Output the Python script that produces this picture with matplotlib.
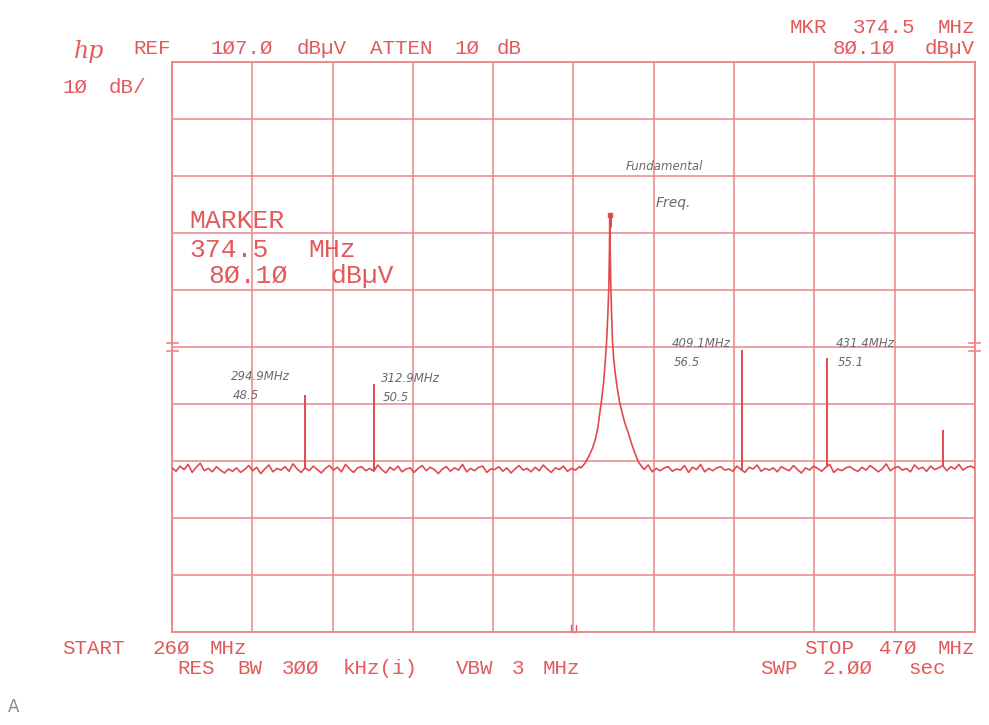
import re
import numpy as np
import matplotlib
matplotlib.use("Agg")
import matplotlib.pyplot as plt
from matplotlib.transforms import blended_transform_factory

# ---- instrument settings -------------------------------------------------
start_mhz = 260.0
stop_mhz = 470.0
ref_level = 107.0          # dBuV, top graticule line
db_per_div = 10.0
marker_freq = 374.5
marker_level = 80.10

# ---- swept noise floor (dBuV), one value per sweep bin --------------------
noise_floor = [
    35.8, 35.2, 36.1, 35.5, 36.4, 35.0, 35.9, 36.6, 35.3, 35.7,
    35.1, 36.0, 35.4, 34.9, 35.6, 35.2, 35.8, 35.0, 35.5, 36.2,
    35.3, 35.9, 34.8, 35.6, 36.3, 35.1, 35.7, 35.4, 36.0, 35.2,
    36.5, 35.6, 35.0, 35.8, 35.3, 36.1, 35.5, 34.9, 35.7, 36.2,
    35.4, 35.9, 35.1, 36.4, 35.6, 35.0, 35.8, 36.0, 35.3, 35.7,
    35.2, 36.3, 35.5, 34.9, 35.9, 35.4, 36.1, 35.1, 35.6, 35.8,
    35.0, 35.7, 36.2, 35.3, 35.9, 35.5, 34.8, 35.6, 36.0, 35.2,
    35.8, 35.4, 36.4, 35.1, 35.7, 35.3, 35.9, 36.1, 35.0, 35.6,
    35.5, 36.0, 35.2, 35.8, 34.9, 35.6, 36.2, 35.4, 35.7, 35.1,
    35.9, 35.3, 36.3, 35.6, 35.0, 35.8, 35.5, 36.1, 35.2, 35.7,
    35.4, 36.0, 35.1, 35.6, 35.9, 35.3, 36.2, 35.5, 34.9, 35.8,
    35.2, 35.7, 36.1, 35.4, 35.6, 35.0, 35.9, 35.5, 36.3, 35.1,
    35.7, 35.3, 35.8, 36.0, 35.2, 35.6, 35.4, 36.2, 35.0, 35.9,
    35.5, 36.4, 35.1, 35.7, 35.3, 35.8, 36.0, 35.4, 35.6, 35.2,
    36.1, 35.5, 35.0, 35.9, 35.6, 36.3, 35.2, 35.7, 35.4, 35.8,
    35.1, 36.0, 35.6, 35.3, 36.2, 35.5, 34.9, 35.8, 35.4, 36.1,
    35.7, 35.2, 35.9, 36.4, 35.0, 35.6, 35.3, 35.8, 36.0, 35.5,
    35.2, 35.9, 35.4, 36.2, 35.7, 35.1, 35.6, 36.5, 35.3, 35.8,
    36.0, 35.4, 35.7, 35.1, 36.3, 35.6, 35.9, 35.2, 36.1, 35.5,
    35.8, 36.2, 35.3, 36.0, 35.6, 36.4, 35.4, 35.9, 36.1, 35.7,
]

# ---- fundamental carrier response (MHz, dBuV) -----------------------------
carrier_freq = [
    367.0, 368.0, 369.0, 370.0, 370.8, 371.4, 371.9, 372.4, 372.9, 373.3,
    373.7, 374.0, 374.25, 374.4, 374.5, 374.6, 374.75, 374.95, 375.2, 375.5,
    375.9, 376.4, 377.0, 377.7, 378.5, 379.3, 380.2, 381.0, 382.0, 383.0,
]
carrier_level = [
    35.8, 36.6, 37.8, 39.3, 41.0, 43.0, 45.5, 48.0, 51.0, 54.5,
    58.5, 63.0, 68.0, 74.0, 80.1, 74.0, 68.0, 63.0, 58.0, 55.0,
    52.5, 50.0, 47.5, 45.5, 43.5, 42.0, 40.0, 38.5, 36.8, 35.9,
]

# ---- discrete spurs ---------------------------------------------------------
spur_freq = [294.9, 312.9, 409.1, 431.4, 461.7]
spur_level = [48.5, 50.5, 56.5, 55.1, 42.4]
spur_labels = ["294.9MHz", "312.9MHz", "409.1MHz", "431.4MHz", None]

# ---- colours / fonts --------------------------------------------------------
PEN = "#e25a5c"
GRID = "#ec8587"
TRACE = "#e04a4e"
INK = "#6a6a6a"
MONO = "Liberation Mono"

W, H = 989, 725
fig = plt.figure(figsize=(W / 100, H / 100), dpi=100)
fig.patch.set_facecolor("white")


def fx(x):
    return x / W


def fy(y):
    return 1 - y / H


ax = fig.add_axes([fx(172), fy(632), (975 - 172) / W, (632 - 62) / H])
ax.set_xlim(start_mhz, stop_mhz)
ax.set_ylim(ref_level - 10 * db_per_div, ref_level)
ax.set_xticks(np.linspace(start_mhz, stop_mhz, 11))
ax.set_yticks(np.arange(ref_level - 10 * db_per_div, ref_level + 0.1, db_per_div))
ax.tick_params(length=0, labelbottom=False, labelleft=False)
ax.grid(True, color=GRID, linewidth=1.1)
for s in ax.spines.values():
    s.set_color(GRID)
    s.set_linewidth(1.3)

# trace: noise bins outside the carrier skirt, carrier response inside
bins = np.linspace(start_mhz, stop_mhz, len(noise_floor))
nf = np.array(noise_floor)
keep = (bins < carrier_freq[0]) | (bins > carrier_freq[-1])
tr_f = np.concatenate([bins[keep], carrier_freq])
tr_l = np.concatenate([nf[keep], carrier_level])
order = np.argsort(tr_f)
ax.plot(tr_f[order], tr_l[order], color=TRACE, linewidth=1.2, zorder=3)

# spurs drawn as single-bin verticals rising from the floor
for f, lvl in zip(spur_freq, spur_level):
    base = np.interp(f, bins, nf)
    ax.vlines(f, base, lvl, color=TRACE, linewidth=1.4, zorder=3)

# marker on the carrier peak
ax.plot([marker_freq], [marker_level], marker="s", markersize=3.5,
        color=TRACE, zorder=4)
ax.vlines(marker_freq, marker_level - 2.0, marker_level, color=TRACE,
          linewidth=2.2, zorder=4)

# reference-level ticks at the graticule edges
tb = blended_transform_factory(ax.transAxes, ax.transData)
for yv in (57.7, 56.3):
    ax.plot([-0.006, 0.008], [yv, yv], color=GRID, lw=1.2,
            transform=tb, clip_on=False)
    ax.plot([0.992, 1.006], [yv, yv], color=GRID, lw=1.2,
            transform=tb, clip_on=False)
# centre-frequency tick on the bottom edge
cf = (start_mhz + stop_mhz) / 2
tb2 = blended_transform_factory(ax.transData, ax.transAxes)
ax.plot([cf - 0.6, cf - 0.6, cf + 0.6, cf + 0.6], [0.012, 0.0, 0.0, 0.012],
        color=PEN, lw=1.0, transform=tb2, clip_on=False)


# ---- plotter lettering: words laid out on a fixed character pitch ----------
def ptext(x, y, s, pitch=14.5, size=15, align="left"):
    start = x if align == "left" else x - len(s) * pitch + 3
    words = list(re.finditer(r"\S+", s))
    for i, m in enumerate(words):
        word = m.group()
        if i == 0:
            px, ha = start + m.start() * pitch, "left"
        elif i == len(words) - 1:
            px, ha = start + m.end() * pitch - 3, "right"
        else:
            px, ha = start + (m.start() + len(word) / 2) * pitch, "center"
        fig.text(fx(px), fy(y), word, fontsize=size, ha=ha,
                 va="baseline", color=PEN, family=MONO)


fig.text(fx(74), fy(58), "hp", fontsize=17, color=PEN, style="italic",
         family="DejaVu Serif", va="baseline", ha="left")
ptext(133, 54, "REF  1Ø7.Ø dBµV ATTEN 1Ø dB")
ptext(62, 93, "1Ø dB/")
ptext(975, 33, "MKR 374.5 MHz", align="right")
ptext(975, 54, "8Ø.1Ø dBµV", align="right")

ptext(189, 228, "MARKER", pitch=18.9, size=19)
ptext(189, 257, "374.5 MHz", pitch=18.9, size=19)
ptext(189, 283, " 8Ø.1Ø dBµV", pitch=18.9, size=19)

ptext(62, 654, "START 26Ø MHz")
ptext(975, 654, "STOP 47Ø MHz", align="right")
ptext(177, 674, "RES BW 3ØØ kHz(i)  VBW 3 MHz")
ptext(760, 674, "SWP 2.ØØ  sec")


# hand-written notes
def note(x, y, s, size=9):
    fig.text(fx(x), fy(y), s, fontsize=size, color=INK, style="italic",
             family="DejaVu Sans", va="baseline", ha="left")


note(626, 170, "Fundamental", size=8.5)
note(656, 207, "Freq.", size=10)
label_pos = [(231, 380), (381, 382), (672, 347), (836, 347)]
for (x, y), lab, lvl in zip(label_pos, spur_labels, spur_level):
    note(x, y, lab, size=8.5)
    note(x + 2, y + 19, f"{lvl:.1f}", size=8.5)

fig.text(fx(8), fy(712), "A", fontsize=12, color="#8a8a8a",
         family="DejaVu Sans", va="baseline", ha="left")

fig.savefig("out.png", dpi=100, facecolor="white")
